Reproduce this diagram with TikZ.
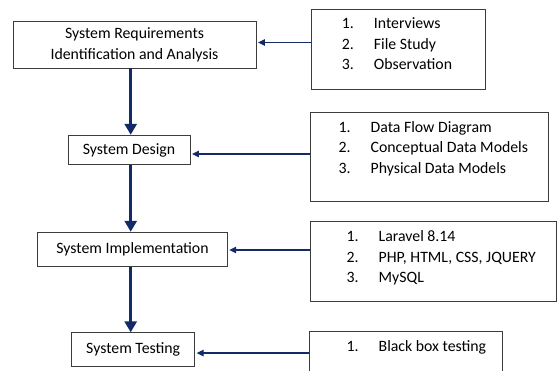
\documentclass[tikz,border=0pt]{standalone}
\usepackage{fontspec}
\setmainfont{Carlito}
\usetikzlibrary{arrows.meta,positioning,calc}
\definecolor{navy}{RGB}{18,42,104}
\definecolor{edge}{RGB}{60,60,60}
\tikzset{
  stage/.style={draw=edge, line width=0.9bp, inner sep=0pt, align=center,
    font=\fontsize{15.8bp}{20.7bp}\selectfont},
  listbox/.style={draw=edge, line width=0.9bp, inner sep=0pt},
  listtext/.style={inner sep=0pt, anchor=base west,
    font=\fontsize{15.8bp}{20.7bp}\selectfont},
  flow/.style={draw=navy, line width=3.3bp,
    -{Triangle[length=11bp,width=12bp]}},
  feed/.style={draw=navy, line width=1.3bp,
    -{Triangle[length=7bp,width=6.5bp]}},
}
\newcommand{\itm}[2]{\makebox[32bp][l]{#1.}#2}
\begin{document}
\begin{tikzpicture}[x=1bp,y=-1bp]
\useasboundingbox (0,0) rectangle (557,370);
\clip (0,0) rectangle (557,370);

% process stages
\node[stage, minimum width=243bp, minimum height=47bp] (req) at (134.5,44.5)
  {System Requirements\\Identification and Analysis};
\node[stage, minimum width=122bp, minimum height=29.5bp] (des) at (129,150)
  {System Design};
\node[stage, minimum width=189.5bp, minimum height=34.5bp] (imp) at (132.5,249.5)
  {System Implementation};
\node[stage, minimum width=123bp, minimum height=34bp] (tst) at (133.2,349.8)
  {System Testing};

% method lists
\node[listbox, minimum width=174bp, minimum height=79.5bp] (m1) at (398,49.5) {};
\node[listbox, minimum width=238bp, minimum height=89bp] (m2) at (429,156.5) {};
\node[listbox, minimum width=246.5bp, minimum height=80bp] (m3) at (433.2,261) {};
\node[listbox, minimum width=193bp, minimum height=60bp] (m4) at (405.5,361) {};

\node[listtext] (t1) at (341.7,28.5) {\begin{tabular}[t]{@{}l@{}}
  \itm{1}{Interviews}\\ \itm{2}{File Study}\\ \itm{3}{Observation}\end{tabular}};
\node[listtext] (t2) at (338.5,132) {\begin{tabular}[t]{@{}l@{}}
  \itm{1}{Data Flow Diagram}\\ \itm{2}{Conceptual Data Models}\\ \itm{3}{Physical Data Models}\end{tabular}};
\node[listtext] (t3) at (346.5,241.5) {\begin{tabular}[t]{@{}l@{}}
  \itm{1}{Laravel 8.14}\\ \itm{2}{PHP, HTML, CSS, JQUERY}\\ \itm{3}{MySQL}\end{tabular}};
\node[listtext] (t4) at (346.5,351.5) {\itm{1}{Black box testing}};

% main flow axis and feed levels
\coordinate (axis) at (130.7,0);
\coordinate (h1) at (0,42.5);
\coordinate (h2) at (0,154);
\coordinate (h3) at (0,250);
\coordinate (h4) at (0,353);

\draw[flow] (req.south -| axis) -- (des.north -| axis);
\draw[flow] (des.south -| axis) -- (imp.north -| axis);
\draw[flow] (imp.south -| axis) -- (tst.north -| axis);

\draw[feed] (m1.west |- h1) -- ([xshift=1.5bp]req.east |- h1);
\draw[feed] (m2.west |- h2) -- ([xshift=1.5bp]des.east |- h2);
\draw[feed] (m3.west |- h3) -- ([xshift=1.5bp]imp.east |- h3);
\draw[feed] (m4.west |- h4) -- ([xshift=1.5bp]tst.east |- h4);
\end{tikzpicture}
\end{document}
